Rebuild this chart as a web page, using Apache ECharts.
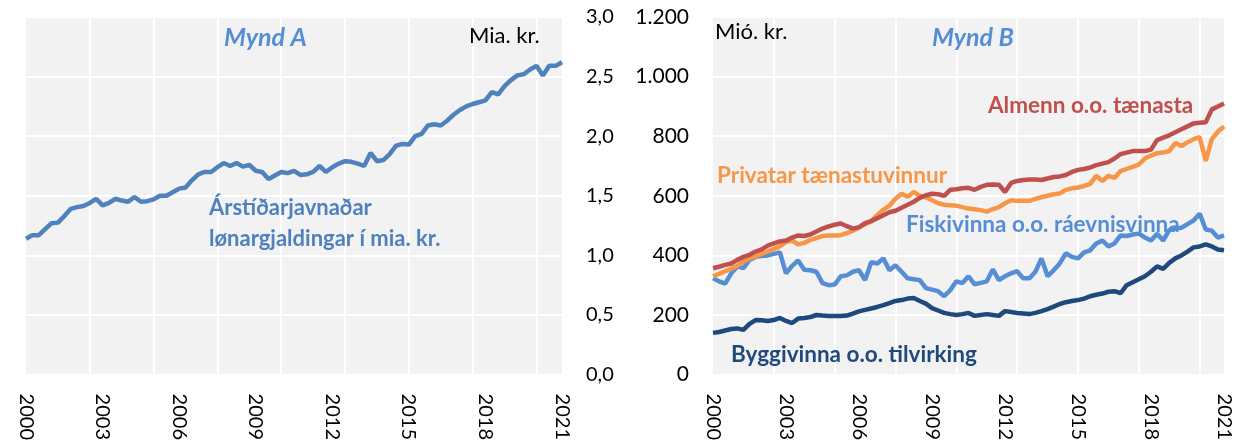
<!DOCTYPE html>
<html>
<head>
<meta charset="utf-8">
<script src="https://cdn.jsdelivr.net/npm/echarts@6/dist/echarts.min.js"></script>
<style>
  html, body { margin: 0; padding: 0; background: #fff; }
  #chart { width: 1241px; height: 443px; }
</style>
</head>
<body>
<div id="chart"></div>
<script>
// ársfjórðingar 2000K1 - 2021K1
const years = [2000, 2001, 2002, 2003, 2004, 2005, 2006, 2007, 2008, 2009, 2010,
    2011, 2012, 2013, 2014, 2015, 2016, 2017, 2018, 2019, 2020, 2021];
const tickYears = ['2000', '2003', '2006', '2009', '2012', '2015', '2018', '2021'];

// Mynd A - lønargjaldingar, mia. kr.
const lonA = [1.14, 1.17, 1.17, 1.22, 1.27, 1.275, 1.33, 1.39, 1.405, 1.415, 1.44, 1.475,
    1.42, 1.44, 1.475, 1.46, 1.45, 1.49, 1.45, 1.455, 1.47, 1.5, 1.5, 1.53,
    1.56, 1.57, 1.63, 1.68, 1.70, 1.70, 1.74, 1.775, 1.75, 1.775, 1.745, 1.76,
    1.71, 1.70, 1.64, 1.67, 1.70, 1.69, 1.71, 1.675, 1.68, 1.70, 1.75, 1.70,
    1.74, 1.77, 1.79, 1.785, 1.77, 1.75, 1.86, 1.79, 1.80, 1.85, 1.92, 1.935,
    1.93, 2.0, 2.02, 2.09, 2.10, 2.09, 2.13, 2.18, 2.22, 2.25, 2.27, 2.285,
    2.30, 2.37, 2.35, 2.42, 2.47, 2.51, 2.52, 2.56, 2.59, 2.51, 2.59, 2.59, 2.62];

// Mynd B - mió. kr.
const almenn = [357, 362, 368, 373, 385, 395, 402, 413, 420, 433, 440, 447,
    450, 460, 467, 465, 470, 480, 490, 497, 503, 507, 498, 490,
    495, 508, 515, 525, 535, 545, 550, 560, 570, 580, 593, 602,
    607, 605, 600, 620, 622, 625, 627, 620, 630, 637, 638, 637,
    613, 643, 650, 653, 655, 655, 653, 658, 663, 665, 670, 680,
    687, 690, 695, 703, 708, 713, 725, 740, 745, 750, 750, 750,
    755, 787, 795, 803, 813, 823, 833, 843, 845, 847, 890, 900, 910];

const privatar = [330, 338, 347, 355, 365, 380, 390, 397, 405, 413, 422, 430,
    445, 450, 437, 442, 452, 458, 465, 467, 467, 468, 475, 483,
    493, 505, 515, 535, 553, 567, 590, 607, 597, 613, 600, 595,
    585, 575, 570, 568, 567, 562, 557, 555, 552, 547, 555, 562,
    575, 585, 583, 583, 583, 590, 595, 600, 605, 608, 620, 625,
    628, 633, 640, 667, 650, 667, 660, 683, 690, 697, 705, 725,
    735, 743, 745, 750, 777, 767, 780, 790, 797, 717, 790, 815, 833];

const fiskivinna = [323, 313, 305, 340, 363, 357, 385, 395, 398, 400, 405, 410,
    340, 365, 383, 352, 350, 345, 307, 300, 302, 330, 333, 345,
    350, 317, 377, 373, 390, 350, 367, 345, 323, 320, 317, 290,
    285, 280, 263, 283, 313, 307, 330, 303, 308, 313, 353, 317,
    330, 340, 347, 323, 323, 345, 390, 330, 350, 373, 407, 395,
    390, 410, 417, 440, 450, 430, 440, 467, 465, 470, 473, 460,
    450, 473, 450, 485, 490, 493, 505, 517, 540, 487, 483, 460, 467];

const byggivinna = [140, 143, 148, 153, 155, 150, 170, 183, 182, 180, 183, 190,
    180, 173, 188, 190, 193, 200, 198, 197, 197, 197, 198, 205,
    212, 217, 222, 227, 233, 240, 247, 250, 255, 257, 247, 238,
    223, 215, 207, 203, 200, 203, 207, 197, 200, 203, 200, 197,
    213, 210, 207, 205, 203, 207, 213, 220, 228, 237, 243, 247,
    250, 255, 263, 268, 272, 278, 280, 273, 300, 310, 320, 330,
    345, 363, 355, 375, 390, 400, 413, 427, 430, 437, 430, 420, 417];

const categories = [];
years.forEach(function (y) {
    for (let q = 1; q <= 4; q++) {
        if (y === 2021 && q > 1) break;
        categories.push(y + 'K' + q);
    }
});

const FONT = 'Lato, "Open Sans", sans-serif';
const cBlueA = '#4f81bd';
const cTitle = '#558ed5';
const cRed = '#c0504d';
const cOrange = '#f79646';
const cLight = '#558ed5';
const cDark = '#1f497d';

function xAxisFor(gridIndex) {
    return {
        type: 'category',
        gridIndex: gridIndex,
        data: categories,
        boundaryGap: false,
        axisLine: {show: false},
        axisTick: {show: false},
        axisLabel: {
            interval: function (i) { return i % 12 === 0; },
            formatter: function (v) {
                const y = v.slice(0, 4);
                return tickYears.indexOf(y) >= 0 ? y : '';
            },
            rotate: -90,
            margin: 19,
            fontSize: 20,
            fontFamily: FONT,
            color: '#000'
        },
        splitLine: {
            show: true,
            interval: function (i) { return i % 10 === 0 && i > 0; },
            lineStyle: {color: '#fff', width: 2}
        }
    };
}

function lineSeries(name, data, color, xi, yi) {
    return {
        name: name,
        type: 'line',
        xAxisIndex: xi,
        yAxisIndex: yi,
        data: data,
        showSymbol: false,
        symbol: 'none',
        lineStyle: {color: color, width: 4.5},
        itemStyle: {color: color},
        silent: true
    };
}

function label(text, x, y, color, size, weight, style) {
    return {
        type: 'text',
        x: x,
        y: y,
        z: 100,
        silent: true,
        style: {
            text: text,
            fill: color,
            font: (style || 'normal') + ' ' + (weight || 'normal') + ' ' + size + 'px ' + FONT
        }
    };
}

const chart = echarts.init(document.getElementById('chart'));

chart.setOption({
    backgroundColor: '#fff',
    animation: false,
    grid: [
        {left: 26, top: 17, width: 536, height: 360, show: true, backgroundColor: '#f2f2f2', borderWidth: 0},
        {left: 713, top: 17, width: 511, height: 360, show: true, backgroundColor: '#f2f2f2', borderWidth: 0}
    ],
    xAxis: [xAxisFor(0), xAxisFor(1)],
    yAxis: [
        {
            type: 'value',
            gridIndex: 0,
            position: 'right',
            min: 0, max: 3, interval: 0.5,
            axisLine: {show: false},
            axisTick: {show: false},
            axisLabel: {
                margin: 24,
                fontSize: 20,
                fontFamily: FONT,
                color: '#000',
                formatter: function (v) { return v.toFixed(1).replace('.', ','); }
            },
            splitLine: {lineStyle: {color: '#fff', width: 2}}
        },
        {
            type: 'value',
            gridIndex: 1,
            position: 'left',
            min: 0, max: 1200, interval: 200,
            axisLine: {show: false},
            axisTick: {show: false},
            axisLabel: {
                margin: 24,
                fontSize: 21,
                fontFamily: FONT,
                color: '#000',
                formatter: function (v) {
                    if (v >= 1000) return Math.floor(v / 1000) + '.' + String(v % 1000).padStart(3, '0');
                    return String(v);
                }
            },
            splitLine: {lineStyle: {color: '#fff', width: 2}}
        }
    ],
    series: [
        lineSeries('Lønargjaldingar', lonA, cBlueA, 0, 0),
        lineSeries('Byggivinna o.o. tilvirking', byggivinna, cDark, 1, 1),
        lineSeries('Fiskivinna o.o. ráevnisvinna', fiskivinna, cLight, 1, 1),
        lineSeries('Privatar tænastuvinnur', privatar, cOrange, 1, 1),
        lineSeries('Almenn o.o. tænasta', almenn, cRed, 1, 1)
    ],
    graphic: [
        label('Mynd A', 224, 25, cTitle, 25, 'bold', 'italic'),
        label('Mia. kr.', 469, 25, '#000', 22),
        label('Árstíðarjavnaðar', 209, 197, cBlueA, 22, 'bold'),
        label('lønargjaldingar í mia. kr.', 209, 228, cBlueA, 22, 'bold'),
        label('Mió. kr.', 715, 21, '#000', 22),
        label('Mynd B', 932, 25, cTitle, 25, 'bold', 'italic'),
        label('Almenn o.o. tænasta', 988, 94, cRed, 22.5, 'bold'),
        label('Privatar tænastuvinnur', 717, 164, cOrange, 22.5, 'bold'),
        label('Fiskivinna o.o. ráevnisvinna', 906, 213, cLight, 22.5, 'bold'),
        label('Byggivinna o.o. tilvirking', 731, 343, cDark, 22.5, 'bold')
    ]
});
</script>
</body>
</html>
